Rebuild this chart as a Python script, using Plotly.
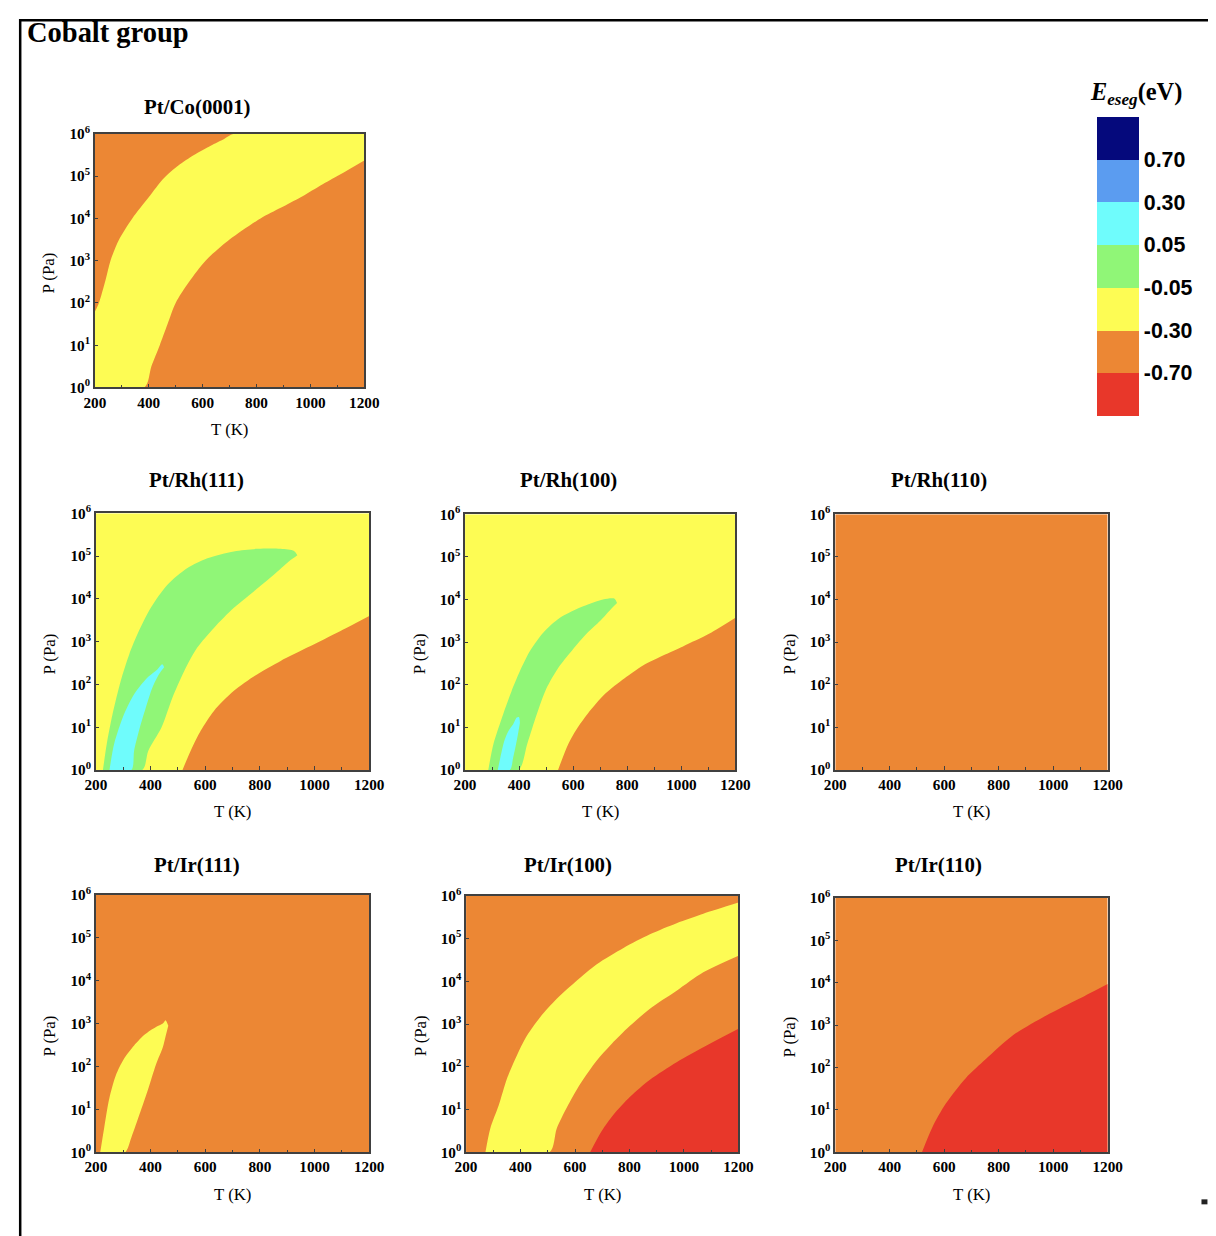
import plotly.graph_objects as go

# ---------------- data ----------------
T_RANGE = [200, 1200]          # K
LOGP_RANGE = [0, 6]            # log10(P / Pa)
T_TICKS = [200, 400, 600, 800, 1000, 1200]
LOGP_TICKS = [0, 1, 2, 3, 4, 5, 6]

LEVEL_LABELS = ["-0.70", "-0.30", "-0.05", "0.05", "0.30", "0.70"]
# band index: 0 <-0.70 (red), 1 orange, 2 yellow, 3 green, 4 cyan, 5 blue, 6 >0.70 (navy)
BAND_COLORS = ["#e8372a", "#ec8734", "#fdfc54", "#90f677", "#6ffcfc", "#5b9cf0", "#05097c"]

PANEL_TITLES = ["Pt/Co(0001)", "Pt/Rh(111)", "Pt/Rh(100)", "Pt/Rh(110)",
                "Pt/Ir(111)", "Pt/Ir(100)", "Pt/Ir(110)"]
PANEL_BASE_BAND = [1, 2, 2, 1, 1, 1, 1]

# Pt/Co(0001): yellow band
CO_Y_UP_T = [200, 215, 240, 258, 290, 339, 400, 456, 510, 568, 630, 680, 716, 1200]
CO_Y_UP_LOGP = [1.79, 2.0, 2.55, 3.0, 3.5, 4.0, 4.5, 4.95, 5.25, 5.5, 5.72, 5.88, 6.0, 6.0]
CO_Y_LO_T = [200, 384, 410, 441, 470, 500, 550, 611, 700, 815, 890, 964, 1030, 1100, 1200]
CO_Y_LO_LOGP = [0, 0, 0.5, 1.0, 1.5, 2.0, 2.5, 3.0, 3.5, 4.0, 4.25, 4.5, 4.75, 5.0, 5.37]

# Pt/Rh(111)
RH111_G_UP_T = [226, 240, 261, 291, 322, 352, 401, 462, 535, 608, 705, 792, 876, 925, 937]
RH111_G_UP_LOGP = [0, 0.61, 1.30, 2.08, 2.70, 3.17, 3.79, 4.33, 4.72, 4.95, 5.11, 5.17, 5.17, 5.12, 5.02]
RH111_G_LO_T = [226, 370, 392, 440, 480, 523, 571, 632, 705, 779, 852, 907, 937]
RH111_G_LO_LOGP = [0, 0, 0.45, 0.99, 1.69, 2.31, 2.86, 3.32, 3.79, 4.18, 4.57, 4.88, 5.02]
RH111_C_UP_T = [250, 267, 303, 340, 389, 425, 443, 450]
RH111_C_UP_LOGP = [0, 0.61, 1.30, 1.77, 2.16, 2.35, 2.47, 2.40]
RH111_C_LO_T = [250, 330, 340, 358, 383, 407, 431, 450]
RH111_C_LO_LOGP = [0, 0, 0.45, 0.92, 1.46, 1.93, 2.24, 2.40]
RH111_O_UP_T = [517, 547, 584, 632, 705, 791, 876, 973, 1095, 1200]
RH111_O_UP_LOGP = [0, 0.45, 0.92, 1.38, 1.85, 2.24, 2.55, 2.86, 3.25, 3.60]
RH111_O_LO_T = [517, 1200]
RH111_O_LO_LOGP = [0, 0]

# Pt/Rh(100)
RH100_G_UP_T = [286, 305, 341, 372, 403, 440, 489, 551, 637, 710, 753, 762]
RH100_G_UP_LOGP = [0, 0.61, 1.31, 1.85, 2.32, 2.79, 3.22, 3.57, 3.84, 4.0, 4.02, 3.92]
RH100_G_LO_T = [286, 398, 430, 465, 500, 545, 595, 650, 700, 740, 762]
RH100_G_LO_LOGP = [0, 0, 0.61, 1.30, 1.90, 2.40, 2.80, 3.20, 3.50, 3.78, 3.92]
RH100_C_UP_T = [321, 345, 360, 378, 391, 399, 403]
RH100_C_UP_LOGP = [0, 0.68, 0.91, 1.07, 1.23, 1.24, 1.11]
RH100_C_LO_T = [321, 366, 378, 391, 403]
RH100_C_LO_LOGP = [0, 0, 0.29, 0.68, 1.11]
RH100_O_UP_T = [544, 581, 612, 655, 717, 790, 858, 930, 1006, 1104, 1200]
RH100_O_UP_LOGP = [0, 0.60, 0.95, 1.33, 1.78, 2.15, 2.45, 2.68, 2.90, 3.20, 3.57]
RH100_O_LO_T = [544, 1200]
RH100_O_LO_LOGP = [0, 0]

# Pt/Ir(111)
IR111_Y_UP_T = [216, 230, 249, 273, 303, 340, 380, 420, 445, 455, 465]
IR111_Y_UP_LOGP = [0, 0.55, 1.25, 1.79, 2.18, 2.49, 2.75, 2.92, 3.0, 3.08, 2.95]
IR111_Y_LO_T = [216, 306, 330, 355, 390, 420, 445, 455, 465]
IR111_Y_LO_LOGP = [0, 0, 0.35, 0.8, 1.45, 2.05, 2.45, 2.7, 2.95]

# Pt/Ir(100)
IR100_Y_UP_T = [271, 289, 320, 350, 381, 417, 472, 533, 607, 680, 778, 875, 973, 1071, 1200]
IR100_Y_UP_LOGP = [0, 0.56, 1.10, 1.72, 2.19, 2.66, 3.16, 3.59, 4.02, 4.40, 4.78, 5.10, 5.36, 5.58, 5.84]
IR100_Y_LO_T = [271, 506, 533, 570, 619, 680, 729, 790, 875, 973, 1071, 1200]
IR100_Y_LO_LOGP = [0, 0, 0.56, 1.05, 1.60, 2.15, 2.50, 2.89, 3.36, 3.78, 4.21, 4.60]
IR100_R_UP_T = [655, 698, 741, 802, 875, 973, 1083, 1200]
IR100_R_UP_LOGP = [0, 0.50, 0.88, 1.30, 1.70, 2.11, 2.50, 2.89]
IR100_R_LO_T = [655, 1200]
IR100_R_LO_LOGP = [0, 0]

# Pt/Ir(110)
IR110_R_UP_T = [518, 557, 606, 679, 753, 850, 973, 1095, 1200]
IR110_R_UP_LOGP = [0, 0.60, 1.15, 1.75, 2.20, 2.75, 3.22, 3.62, 3.97]
IR110_R_LO_T = [518, 1200]
IR110_R_LO_LOGP = [0, 0]

# regions per panel: (band, upper T, upper logP, lower T, lower logP)
PANEL_REGIONS = [
    [(2, CO_Y_UP_T, CO_Y_UP_LOGP, CO_Y_LO_T, CO_Y_LO_LOGP)],
    [(3, RH111_G_UP_T, RH111_G_UP_LOGP, RH111_G_LO_T, RH111_G_LO_LOGP),
     (4, RH111_C_UP_T, RH111_C_UP_LOGP, RH111_C_LO_T, RH111_C_LO_LOGP),
     (1, RH111_O_UP_T, RH111_O_UP_LOGP, RH111_O_LO_T, RH111_O_LO_LOGP)],
    [(3, RH100_G_UP_T, RH100_G_UP_LOGP, RH100_G_LO_T, RH100_G_LO_LOGP),
     (4, RH100_C_UP_T, RH100_C_UP_LOGP, RH100_C_LO_T, RH100_C_LO_LOGP),
     (1, RH100_O_UP_T, RH100_O_UP_LOGP, RH100_O_LO_T, RH100_O_LO_LOGP)],
    [],
    [(2, IR111_Y_UP_T, IR111_Y_UP_LOGP, IR111_Y_LO_T, IR111_Y_LO_LOGP)],
    [(2, IR100_Y_UP_T, IR100_Y_UP_LOGP, IR100_Y_LO_T, IR100_Y_LO_LOGP),
     (0, IR100_R_UP_T, IR100_R_UP_LOGP, IR100_R_LO_T, IR100_R_LO_LOGP)],
    [(0, IR110_R_UP_T, IR110_R_UP_LOGP, IR110_R_LO_T, IR110_R_LO_LOGP)],
]

# ---------------- layout ----------------
W, H = 1222, 1236
# the photographed page shows the figure shifted and slightly reduced;
# target positions below are pixels in the 1216x1236 reference
OX, OY = 18.0, 17.0
SX, SY = 0.980, 0.986
FS = 1 / 0.983                # font compensation for the reduction

# plot-area boxes: (left, right, top, bottom)
PANEL_BOXES = [(94, 364, 132, 386),
               (95, 369, 512, 769), (465, 736, 513, 769), (836, 1109, 513, 769),
               (95, 369, 894, 1152), (466, 739, 895, 1152), (836, 1109, 897, 1152)]
TITLE_POS = [(197, 105), (196, 479), (569, 479), (940, 479),
             (196, 864), (568, 864), (939, 864)]

SERIF = "Liberation Serif"
SANS = "Liberation Sans"


def px(x):
    return min(max((x - OX) / SX / W, 0), 1)


def py(y):
    return min(max(1 - (y - OY) / SY / H, 0), 1)


fig = go.Figure()
shapes = []
annotations = []
layout_axes = {}


def add_band(xname, yname, band, ut, ulp, lt, llp):
    color = BAND_COLORS[band]
    common = dict(xaxis=xname, yaxis=yname, mode="lines", hoverinfo="skip", showlegend=False,
                  line=dict(width=0, shape="spline", smoothing=0.8, color=color))
    fig.add_trace(go.Scatter(x=list(lt), y=[10 ** v for v in llp], fill="none", **common))
    fig.add_trace(go.Scatter(x=list(ut), y=[10 ** v for v in ulp], fill="tonexty",
                             fillcolor=color, **common))


tickfont = dict(family=SERIF, size=15 * FS, color="black", weight="bold")
for i, title in enumerate(PANEL_TITLES):
    n = "" if i == 0 else str(i + 1)
    xname, yname = "x" + n, "y" + n
    l, r, t, b = PANEL_BOXES[i]
    layout_axes["xaxis" + n] = dict(
        domain=[px(l), px(r)], anchor=yname, range=T_RANGE,
        tickmode="linear", tick0=T_TICKS[0], dtick=T_TICKS[1] - T_TICKS[0],
        ticks="inside", ticklen=4, tickwidth=1, tickcolor="#404040",
        minor=dict(tickmode="linear", tick0=T_TICKS[0], dtick=(T_TICKS[1] - T_TICKS[0]) / 2,
                   ticks="inside", ticklen=3, tickcolor="#404040"),
        showline=True, mirror=True, linecolor="#404040", linewidth=1.5,
        showgrid=False, zeroline=False, tickfont=tickfont,
    )
    layout_axes["yaxis" + n] = dict(
        domain=[py(b), py(t)], anchor=xname, type="log", range=LOGP_RANGE,
        tickmode="array", tickvals=[10 ** k for k in LOGP_TICKS],
        ticktext=["10<sup>%d</sup>" % k for k in LOGP_TICKS],
        ticks="inside", ticklen=3, tickcolor="#404040",
        showline=True, mirror=True, linecolor="#404040", linewidth=1.5,
        showgrid=False, zeroline=False, tickfont=tickfont,
    )
    # whole diagram filled with its base band, then the other bands on top
    add_band(xname, yname, PANEL_BASE_BAND[i],
             T_RANGE, [LOGP_RANGE[1]] * 2, T_RANGE, [LOGP_RANGE[0]] * 2)
    for band, ut, ulp, lt, llp in PANEL_REGIONS[i]:
        add_band(xname, yname, band, ut, ulp, lt, llp)
    tx, ty = TITLE_POS[i]
    annotations.append(dict(text="<b>%s</b>" % title, x=px(tx), y=py(ty), xref="paper", yref="paper",
                            xanchor="center", yanchor="middle", showarrow=False,
                            font=dict(family=SERIF, size=20.5 * FS, color="black")))
    annotations.append(dict(text="T (K)", x=px((l + r) / 2), y=py(b + 42), xref="paper", yref="paper",
                            xanchor="center", yanchor="middle", showarrow=False,
                            font=dict(family=SERIF, size=16.5 * FS, color="black")))
    annotations.append(dict(text="P (Pa)", x=px(l - 46), y=py((t + b) / 2 + 12), xref="paper", yref="paper",
                            xanchor="center", yanchor="middle", showarrow=False, textangle=-90,
                            font=dict(family=SERIF, size=16.5 * FS, color="black")))

# colour legend (discrete colour bar)
nb = len(BAND_COLORS)
colorscale = []
for k, c in enumerate(BAND_COLORS):
    colorscale.append([k / nb, c])
    colorscale.append([(k + 1) / nb, c])
CB_TOP, CB_BOTTOM, CB_LEFT, CB_RIGHT = 117, 412, 1098, 1139
fig.add_trace(go.Scatter(
    x=[None], y=[None], xaxis="x", yaxis="y", mode="markers", showlegend=False, hoverinfo="skip",
    marker=dict(color=[0], cmin=0, cmax=nb, colorscale=colorscale, showscale=True,
                colorbar=dict(thickness=(CB_RIGHT - CB_LEFT) / SX, thicknessmode="pixels",
                              len=(CB_BOTTOM - CB_TOP) / SY, lenmode="pixels",
                              x=px(CB_LEFT), xanchor="left", xpad=0,
                              y=py((CB_TOP + CB_BOTTOM) / 2), yanchor="middle", ypad=0,
                              outlinewidth=0, tickmode="array",
                              tickvals=list(range(1, nb)), ticktext=LEVEL_LABELS,
                              ticks="", ticklen=0,
                              tickfont=dict(family=SANS, size=21 * FS, color="black",
                                            weight="bold")))))

annotations.append(dict(text="<b><i>E</i></b><sub><b><i>eseg</i></b></sub><b>(eV)</b>",
                        x=px(1089), y=py(92), xref="paper", yref="paper",
                        xanchor="left", yanchor="middle", showarrow=False,
                        font=dict(family=SERIF, size=24 * FS, color="black")))
annotations.append(dict(text="<b>Cobalt group</b>", x=px(24), y=py(31), xref="paper", yref="paper",
                        xanchor="left", yanchor="middle", showarrow=False,
                        font=dict(family=SERIF, size=28 * FS, color="black")))

# page border (top and left) and small mark
shapes.append(dict(type="line", xref="paper", yref="paper", x0=0, x1=px(1210), y0=0.999, y1=0.999,
                   line=dict(color="black", width=2.5)))
shapes.append(dict(type="line", xref="paper", yref="paper", x0=0.001, x1=0.001, y0=0, y1=1,
                   line=dict(color="black", width=2.5)))
shapes.append(dict(type="rect", xref="paper", yref="paper", x0=px(1203), x1=px(1209),
                   y0=py(1204), y1=py(1199), fillcolor="#222", line=dict(width=0)))

fig.update_layout(
    width=W, height=H, margin=dict(l=0, r=0, t=0, b=0, pad=0),
    paper_bgcolor="white", plot_bgcolor="white",
    shapes=shapes, annotations=annotations, showlegend=False,
    **layout_axes)

fig.write_html("out.html")
